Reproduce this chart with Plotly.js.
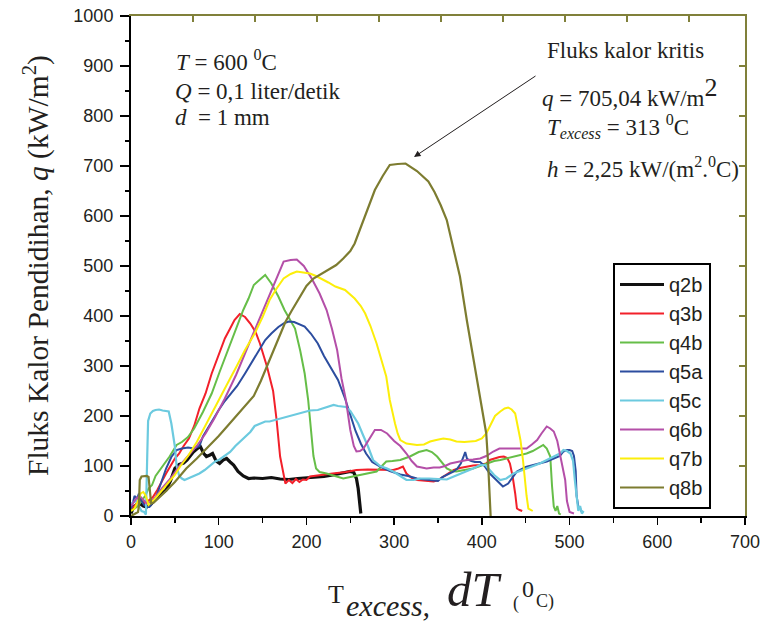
<!DOCTYPE html>
<html>
<head>
<meta charset="utf-8">
<script src="https://cdn.plot.ly/plotly-3.0.1.min.js"></script>
<style>html,body{margin:0;padding:0;background:#fff;}#chart{width:769px;height:626px;}</style>
</head>
<body>
<div id="chart"></div>
<script>
// ---- data ----
const seriesNames = ["q2b","q3b","q4b","q5a","q5c","q6b","q7b","q8b"];

const T_q2b = [0,3,6,10,14,18,22,26,30,35,40,45,50,55,60,64,67,71,75,79,83,86,90,93,97,101,105,109,113,117,122,128,134,140,150,160,170,180,190,200,210,220,230,240,245,250,254,257,259,260,261,262];
const Q_q2b = [5,18,22,25,20,18,22,30,38,45,52,70,95,103,106,112,119,128,134,139,125,119,122,125,110,105,112,115,108,102,89,80,75,76,75,77,74,73,75,76,77,79,82,86,88,89,87,75,55,35,15,5];

const T_q3b = [0,4,8,12,16,20,25,30,35,40,45,50,55,60,66,72,78,85,92,101,107,113,118,124,130,136,142,147,155,162,166,170,174,176,180,184,188,192,196,200,204,215,230,245,257,270,280,290,299,305,310,314,320,326,335,345,350,356,362,368,375,383,390,398,405,409,415,420,425,429,432,435,438,440,443,446];
const Q_q3b = [15,20,28,32,25,30,38,52,70,85,100,115,125,140,155,180,215,245,285,328,355,375,392,404,398,385,368,345,299,250,192,119,78,65,72,66,74,68,73,72,79,82,85,88,92,93,93,93,92,95,99,85,76,72,70,69,72,79,85,92,96,99,101,102,105,112,116,118,119,116,105,80,45,15,12,10];

const T_q4b = [0,4,8,12,16,20,24,28,33,38,44,52,58,65,72,82,92,101,110,120,128,134,140,147,153,160,168,175,181,187,193,198,202,205,208,211,215,223,232,242,250,261,270,280,286,291,298,307,318,328,337,343,349,355,360,366,371,380,390,398,406,414,421,428,436,444,451,458,465,470,474,478,480,482,484,486,488,490];
const Q_q4b = [10,15,20,30,40,55,62,80,92,105,119,142,148,158,175,208,245,288,330,378,412,435,462,473,482,465,439,412,392,375,330,285,232,172,120,95,88,85,80,75,78,82,85,89,100,109,110,112,119,128,132,128,119,105,95,90,89,92,95,100,105,110,112,115,119,122,125,130,138,142,135,119,60,19,10,20,5,3];

const T_q5a = [0,2,4,7,9,12,15,18,21,24,28,33,40,46,52,58,65,72,78,82,92,100,107,115,121,130,140,147,153,160,168,175,180,186,192,198,205,213,220,228,236,244,250,256,262,268,275,284,295,307,316,326,335,345,350,355,360,364,368,372,376,379,381,383,385,388,392,398,403,409,416,424,430,435,440,450,459,466,474,482,489,493,497,500,503,505,507,508,510,512,514];
const Q_q5a = [15,25,40,35,45,30,22,18,18,25,35,60,95,118,132,135,137,135,140,159,190,212,230,248,260,285,315,335,352,365,378,386,389,388,384,379,365,345,320,295,272,235,200,170,145,125,108,99,90,83,80,75,73,72,70,78,82,85,89,95,105,118,128,115,112,110,108,108,100,85,72,59,65,78,89,98,102,104,109,115,120,129,132,132,130,120,90,40,19,15,8];

const T_q5c = [0,3,6,9,12,15,17,18.5,19.5,22,25,28,32,36,40,43,46,48,50,52,55,58,61,65,69,73,78,84,90,96,101,107,113,119,125,130,136,141,147,153,158,164,170,177,185,194,204,213,223,231,236,240,245,250,254,259,265,270,276,284,292,300,307,314,322,330,340,352,360,368,375,383,390,398,404,409,414,421,428,436,444,451,459,466,474,482,489,493,497,501,504,506,508,510,512,514,516];
const Q_q5c = [25,28,30,20,10,8,3,120,190,205,210,212,213,211,210,209,185,165,139,100,80,75,72,75,78,80,85,92,100,109,113,120,128,140,150,159,168,180,185,189,189,192,195,199,203,207,211,212,218,222,220,219,218,210,200,185,160,140,112,100,95,88,80,72,72,75,75,73,73,79,84,89,95,102,102,92,82,72,75,85,90,95,100,105,112,119,125,132,130,125,110,72,40,10,20,5,10];

const T_q6b = [0,3,6,10,14,18,22,28,35,45,55,65,75,85,95,107,120,133,145,157,166,174,182,189,197,206,215,223,229,235,240,245,250,254,257,261,265,270,278,285,292,300,307,314,320,326,337,345,352,358,364,372,383,390,398,405,413,420,428,436,444,451,457,463,468,474,478,482,486,489,492,495,497,500,505];
const Q_q6b = [20,28,35,40,32,25,28,38,55,75,100,120,140,165,195,235,283,338,388,440,478,509,512,513,500,475,445,412,375,332,275,232,172,140,129,130,135,150,172,172,165,150,140,125,110,99,95,97,97,100,105,108,112,113,115,120,129,135,135,135,135,135,143,152,165,179,175,169,150,125,95,72,30,8,5];

const T_q7b = [0,4,8,11,14,17,20,24,30,40,50,56,65,75,82,92,100,110,120,130,141,150,158,166,174,182,189,197,204,211,217,225,233,244,255,262,267,273,280,286,291,295,298,301,304,307,314,320,326,334,341,348,356,364,371,380,386,393,400,405,409,415,421,426,430,434,438,441,444,447,449,451,453,456,458];
const Q_q7b = [10,15,30,45,48,40,22,28,40,60,82,99,120,148,172,205,232,265,298,332,365,398,432,455,475,484,489,487,485,480,475,467,459,452,435,420,405,380,345,310,279,232,205,185,165,152,145,143,142,143,149,152,155,153,149,148,149,150,155,165,179,200,209,215,217,213,205,180,152,110,72,40,15,12,10];

const T_q8b = [0,3,6,8,9,10,12,15,18,20,21,22,23,26,30,40,50,63,75,88,100,110,120,130,140,148,155,163,170,176,183,190,200,208,220,234,242,250,255,261,270,278,287,295,304,313,326,339,346,353,360,367,375,383,390,394,400,405,407,408,409,410];
const Q_q8b = [0,3,5,8,20,72,79,80,80,78,60,30,25,27,33,50,68,95,115,138,160,180,200,220,240,270,300,335,365,388,410,430,460,475,488,502,515,530,545,572,615,652,680,702,704,705,690,669,648,622,592,540,479,390,320,272,215,165,110,60,20,0];

const xTicks = [0,100,200,300,400,500,600,700];
const yTicks = [0,100,200,300,400,500,600,700,800,900,1000];

// ---- styles ----
const colors = {q2b:"#111111", q3b:"#f2202a", q4b:"#66be48", q5a:"#2c4d9f", q5c:"#6ccadf", q6b:"#b44fa8", q7b:"#fcee0a", q8b:"#7d7c30"};
const widths = {q2b:3.2, q3b:2, q4b:2, q5a:2, q5c:2.2, q6b:2, q7b:2, q8b:2.2};
const olive = "#80803a";
const serif = "Liberation Serif, Times New Roman, serif";
const sans = "Liberation Sans, Arial, sans-serif";

const dataX = {q2b:T_q2b,q3b:T_q3b,q4b:T_q4b,q5a:T_q5a,q5c:T_q5c,q6b:T_q6b,q7b:T_q7b,q8b:T_q8b};
const dataY = {q2b:Q_q2b,q3b:Q_q3b,q4b:Q_q4b,q5a:Q_q5a,q5c:Q_q5c,q6b:Q_q6b,q7b:Q_q7b,q8b:Q_q8b};

const traces = seriesNames.map(n => ({
  type:"scatter", mode:"lines", name:n, x:dataX[n], y:dataY[n],
  line:{color:colors[n], width:widths[n]}, hoverinfo:"skip"
}));
// helper trace so the mirrored top/right frame axes exist
traces.push({type:"scatter", mode:"lines", x:[null], y:[null], xaxis:"x2", yaxis:"y2", showlegend:false, hoverinfo:"skip"});

// plot area in pixels: x 131..745, y 16..516
const L=131, R=745, TOP=16, BOT=516;
const px = v => (v-L)/(R-L);
const py = v => (BOT-v)/(BOT-TOP);

function ann(text, x, y, size, opts){
  return Object.assign({xref:"paper", yref:"paper", x:px(x), y:py(y),
    text:"<span style='font-size:" + size + "px'>" + text + "</span>", showarrow:false,
    xanchor:"left", yanchor:"middle", font:{family:serif, size:size, color:"#231f20"}}, opts||{});
}

const annotations = [
  ann("<i>T</i> = 600 <sup>0</sup>C", 174, 61, 23),
  ann("<i>Q</i> = 0,1 liter/detik", 173, 91, 23),
  ann("<i>d</i>&nbsp; = 1 mm", 173, 118, 23),
  ann("Fluks kalor kritis", 545, 51, 23),
  ann("<i>q</i> = 705,04 kW/m<sup><span style='font-size:26px'>2</span></sup>", 540, 92, 23),
  ann("<i>T</i><sub><i>excess</i></sub> = 313 <sup>0</sup>C", 545, 127, 23),
  ann("<i>h</i> = 2,25 kW/(m<sup>2</sup>.<sup>0</sup>C)", 545, 167, 23),
  // arrow
  {xref:"paper", yref:"paper", x:px(414), y:py(157), ax:123, ay:-82, text:"", showarrow:true,
   arrowhead:2, arrowsize:1.3, arrowwidth:1, arrowcolor:"#231f20"},
  // y-axis title
  {xref:"paper", yref:"paper", x:px(36), y:py(266), xanchor:"center", yanchor:"middle", textangle:-90, showarrow:false,
   text:"<span style='font-size:29.5px'>Fluks Kalor Pendidihan, <i>q</i> (kW/m<sup>2</sup>)</span>",
   font:{family:serif, size:29.5, color:"#231f20"}},
  // x-axis title pieces
  ann("T", 326, 594, 26),
  ann("<i>excess,</i>", 344, 605, 30),
  ann("<i>dT</i>", 445, 589, 49),
  ann("(", 511, 603, 18),
  ann("0", 520, 589, 24),
  ann("C)", 534, 601, 18)
];

const layout = {
  width:769, height:626,
  margin:{l:L, r:769-R, t:TOP, b:626-BOT, pad:0},
  paper_bgcolor:"#ffffff", plot_bgcolor:"#ffffff",
  showlegend:true,
  legend:{x:px(613), y:py(263), xanchor:"left", yanchor:"top", bgcolor:"#ffffff",
    bordercolor:"#000000", borderwidth:2, font:{family:sans, size:20, color:"#231f20"}, tracegroupgap:0,
    itemwidth:44},
  xaxis:{range:[0,700], tickmode:"array", tickvals:xTicks, ticktext:xTicks.map(String),
    ticks:"outside", ticklen:7, tickwidth:1.3, tickcolor:"#000", showline:true, linecolor:"#000", linewidth:2,
    showgrid:false, zeroline:false, tickfont:{family:sans, size:18, color:"#231f20"}, ticklabelstandoff:1,
    minor:{dtick:50, tick0:0, ticks:"outside", ticklen:5, tickwidth:1.3, tickcolor:"#000"}},
  yaxis:{range:[0,1000], tickmode:"array", tickvals:yTicks, ticktext:yTicks.map(String),
    ticks:"outside", ticklen:9, tickwidth:1.3, tickcolor:"#000", showline:true, linecolor:"#000", linewidth:2,
    showgrid:false, zeroline:false, tickfont:{family:sans, size:18, color:"#231f20"}, ticklabelstandoff:3,
    minor:{dtick:50, tick0:0, ticks:"outside", ticklen:4, tickwidth:1.3, tickcolor:"#000"}},
  xaxis2:{overlaying:"x", side:"top", anchor:"y", range:[0,(R-L)/62], dtick:1, tick0:0, ticks:"inside", ticklen:6,
    tickwidth:1.3, tickcolor:olive, showline:true, linecolor:olive, linewidth:2, showticklabels:false,
    showgrid:false, zeroline:false},
  yaxis2:{overlaying:"y", side:"right", anchor:"x", range:[0,1000], dtick:100, tick0:0, ticks:"inside", ticklen:6,
    tickwidth:1.3, tickcolor:olive, showline:true, linecolor:olive, linewidth:2, showticklabels:false,
    showgrid:false, zeroline:false},
  annotations:annotations
};

Plotly.newPlot("chart", traces, layout, {staticPlot:true, displayModeBar:false});
</script>
</body>
</html>
